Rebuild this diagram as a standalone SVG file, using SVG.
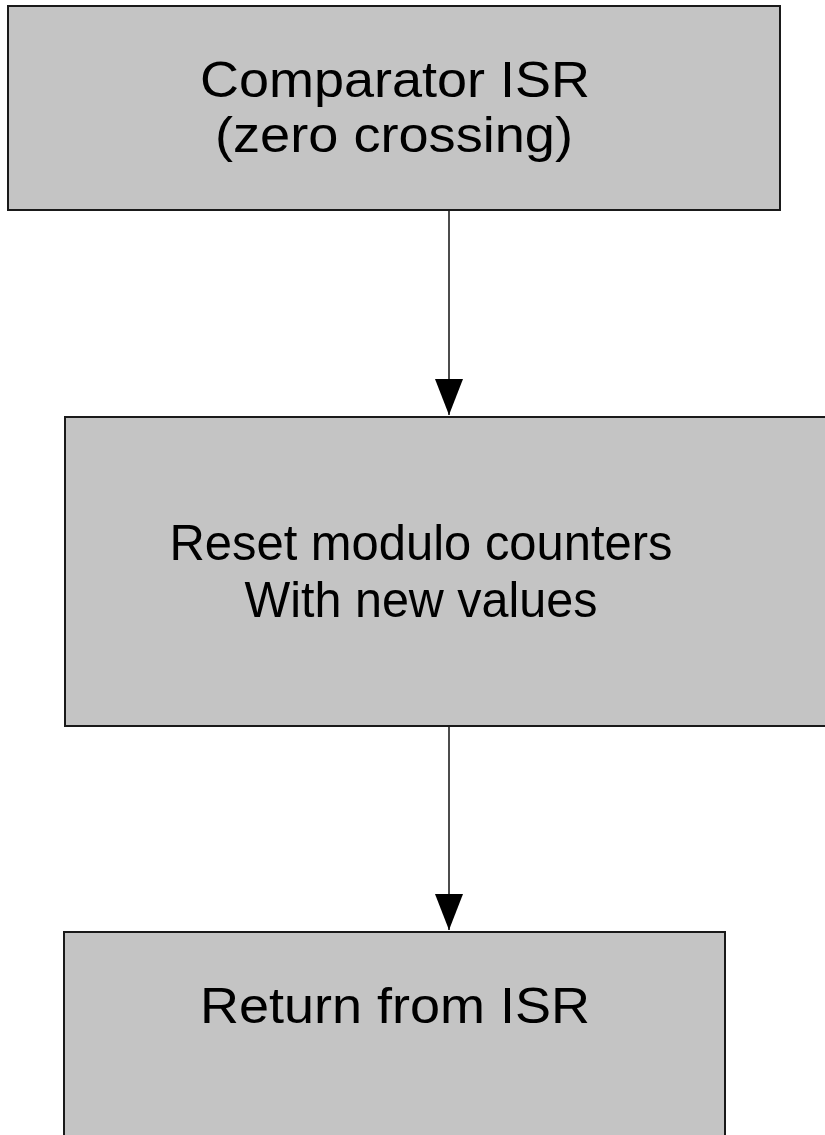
<svg xmlns="http://www.w3.org/2000/svg" width="825" height="1135" viewBox="0 0 825 1135">
  <style>
    .box { fill: #c4c4c4; stroke: #1a1a1a; stroke-width: 2; }
    .lbl { font-family: "Liberation Sans", Arial, sans-serif; font-size: 50px; fill: #000; text-anchor: middle; }
    .conn { stroke: #111; stroke-width: 1.5; fill: none; }
  </style>
  <defs>
    <marker id="arrow" markerUnits="userSpaceOnUse" markerWidth="36" markerHeight="28" refX="36" refY="14" orient="auto" viewBox="0 0 36 28">
      <path d="M0,0 L36,14 L0,28 Z" fill="#000"/>
    </marker>
  </defs>
  <rect width="825" height="1135" fill="#fff"/>
  <g id="node-comparator">
    <rect class="box" x="8" y="6" width="772" height="204"/>
    <text class="lbl" x="395" y="97" textLength="390" lengthAdjust="spacingAndGlyphs">Comparator ISR</text>
    <text class="lbl" x="394" y="152" textLength="358" lengthAdjust="spacingAndGlyphs">(zero crossing)</text>
  </g>
  <g id="node-reset">
    <rect class="box" x="65" y="417" width="775" height="309"/>
    <text class="lbl" x="421" y="560" textLength="503" lengthAdjust="spacingAndGlyphs">Reset modulo counters</text>
    <text class="lbl" x="421" y="617" textLength="353" lengthAdjust="spacingAndGlyphs">With new values</text>
  </g>
  <g id="node-return">
    <rect class="box" x="64" y="932" width="661" height="220"/>
    <text class="lbl" x="395" y="1023" textLength="390" lengthAdjust="spacingAndGlyphs">Return from ISR</text>
  </g>
  <g id="connectors">
    <line class="conn" x1="449" y1="211" x2="449" y2="415" marker-end="url(#arrow)"/>
    <line class="conn" x1="449" y1="727" x2="449" y2="930" marker-end="url(#arrow)"/>
  </g>
</svg>
